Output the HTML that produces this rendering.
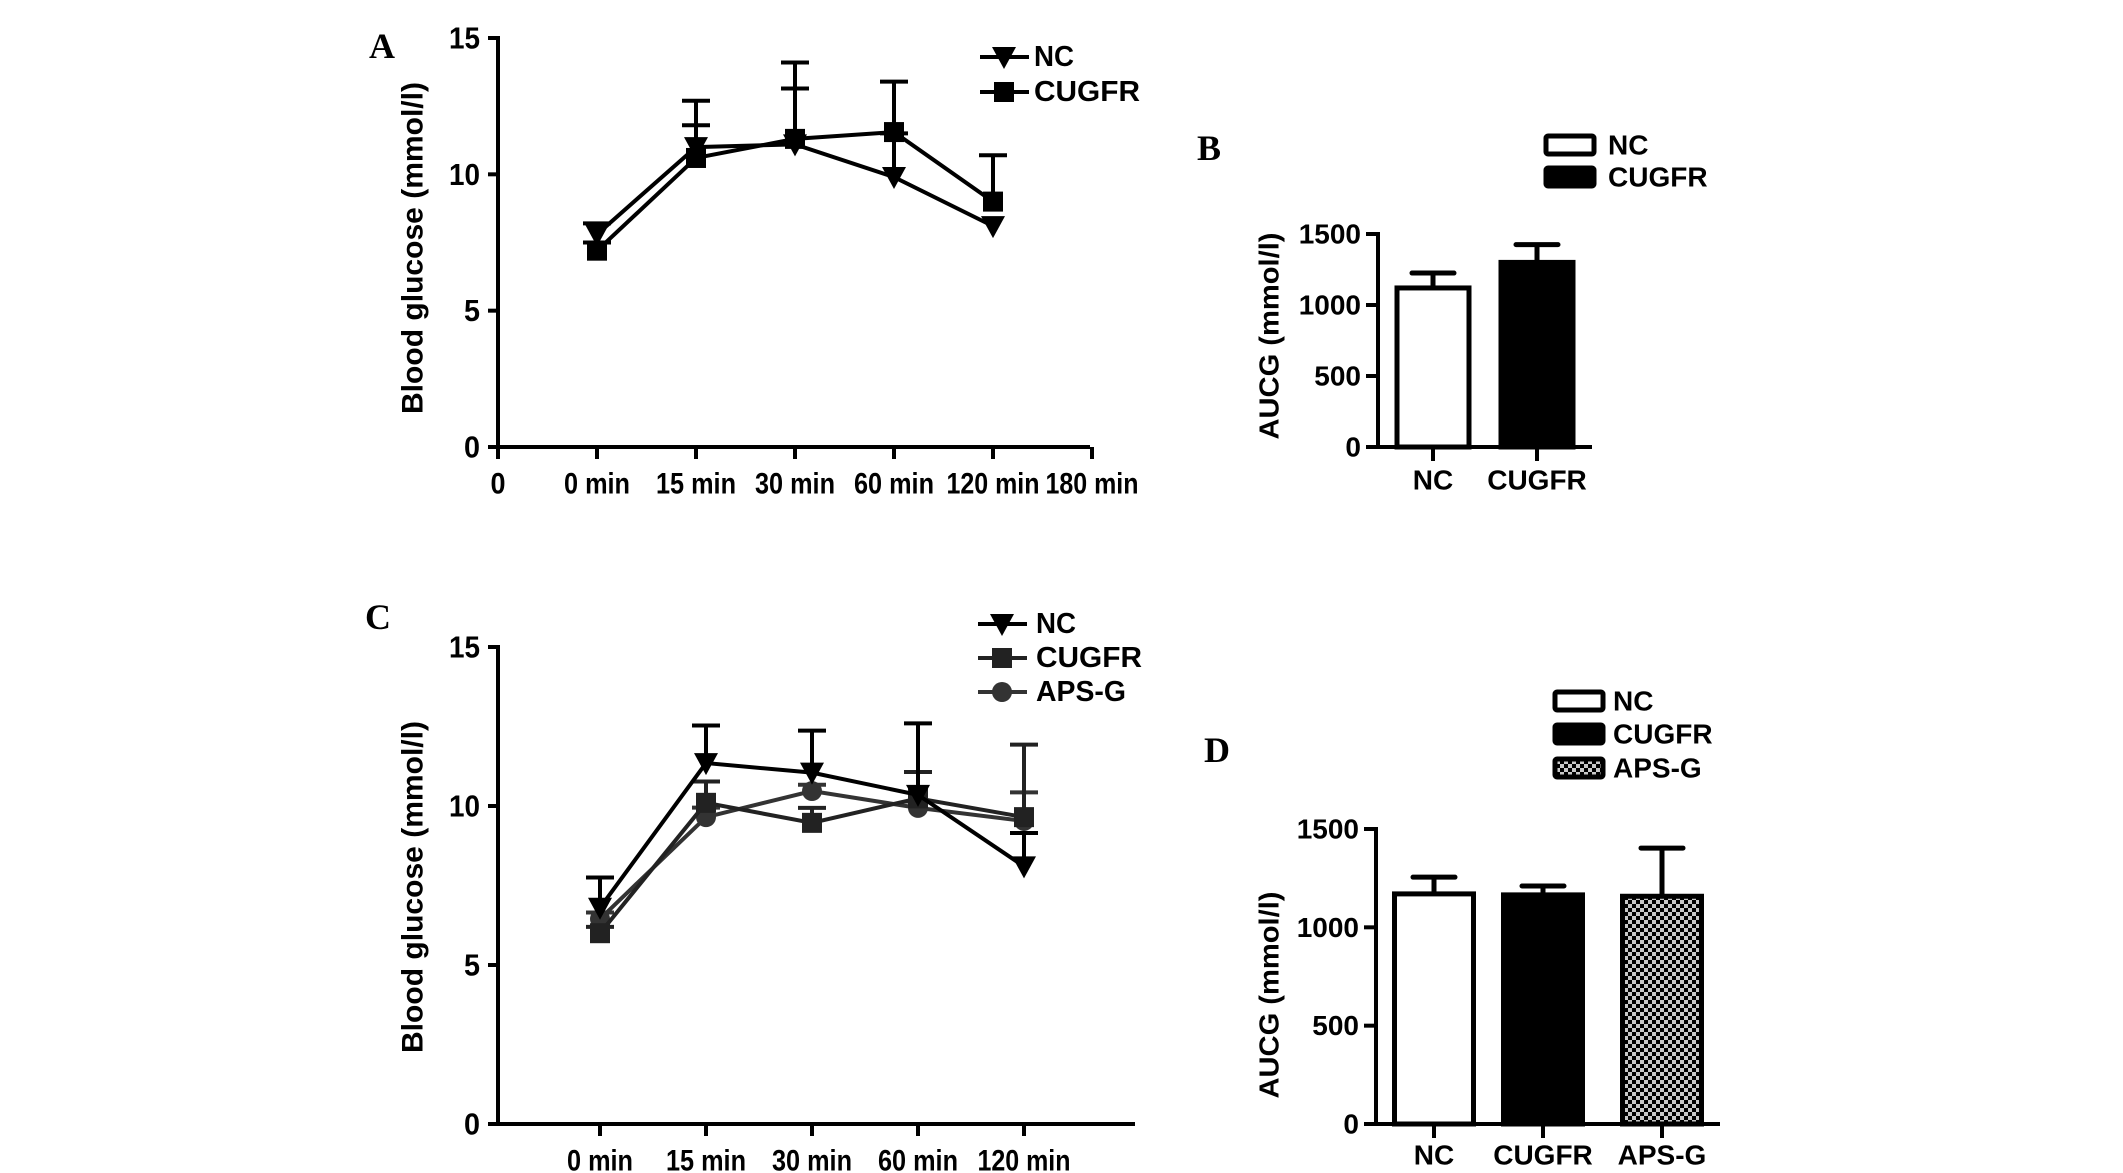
<!DOCTYPE html>
<html><head><meta charset="utf-8">
<style>
html,body{margin:0;padding:0;background:#fff;}
svg{display:block;font-family:"Liberation Sans",Arial,sans-serif;font-weight:bold;}
</style></head>
<body>
<svg id="fig" width="2123" height="1173" viewBox="0 0 2123 1173" xmlns="http://www.w3.org/2000/svg">
<defs>
<pattern id="checker" width="8" height="8" patternUnits="userSpaceOnUse">
<rect width="8" height="8" fill="#c8c8c8"/><rect width="4" height="4" fill="#000"/><rect x="4" y="4" width="4" height="4" fill="#000"/>
</pattern>
</defs>
<text x="382" y="46" text-anchor="middle" dominant-baseline="central" font-family="Liberation Serif,serif" font-size="36">A</text>
<text x="1209" y="148" text-anchor="middle" dominant-baseline="central" font-family="Liberation Serif,serif" font-size="36">B</text>
<text x="378" y="617" text-anchor="middle" dominant-baseline="central" font-family="Liberation Serif,serif" font-size="36">C</text>
<text x="1217" y="750" text-anchor="middle" dominant-baseline="central" font-family="Liberation Serif,serif" font-size="36">D</text>
<g id="gA"></g>
<g id="gB"></g>
<g id="gC"></g>
<g id="gD"></g>
</svg>
<script>
// ---- Panel A data ----
const aCats = ['0 min','15 min','30 min','60 min','120 min'];
const aXLabels = ['0','0 min','15 min','30 min','60 min','120 min','180 min'];
const aYTicks = [0,5,10,15];
const aNC = [7.8, 11.0, 11.1, 9.9, 8.1];
const aNCErr = [0.4, 0.8, 2.05, 1.6, 0.0];
const aCUGFR = [7.2, 10.6, 11.3, 11.55, 9.0];
const aCUGFRErr = [0.3, 2.1, 2.8, 1.85, 1.7];
// ---- Panel C data ----
const cCats = ['0 min','15 min','30 min','60 min','120 min'];
const cYTicks = [0,5,10,15];
const cNC = [6.8, 11.35, 11.05, 10.35, 8.1];
const cNCErr = [0.95, 1.18, 1.32, 2.25, 1.05];
const cCUGFR = [6.0, 10.1, 9.47, 10.24, 9.65];
const cCUGFRErr = [0.2, 0.67, 0.47, 0.83, 2.28];
const cAPS = [6.45, 9.65, 10.47, 9.94, 9.53];
const cAPSErr = [0.2, 0.3, 0.2, 0.2, 0.9];
// ---- Panel B data ----
const bCats = ['NC','CUGFR'];
const bVals = [1120, 1300];
const bErr = [105, 125];
const bYTicks = [0,500,1000,1500];
// ---- Panel D data ----
const dCats = ['NC','CUGFR','APS-G'];
const dVals = [1170, 1165, 1158];
const dErr = [85, 45, 245];
const dYTicks = [0,500,1000,1500];

const NS='http://www.w3.org/2000/svg';
function mk(parent, tag, attrs){const e=document.createElementNS(NS,tag);for(const k in attrs)e.setAttribute(k,attrs[k]);parent.appendChild(e);return e;}
function txt(parent,x,y,s,size,anchor,len,rot){
  const a={x:x,y:y,'font-size':size,'text-anchor':anchor||'middle','dominant-baseline':'central'};
  if(len){a.textLength=len;a.lengthAdjust='spacingAndGlyphs';}
  if(rot)a.transform='rotate(-90 '+x+' '+y+')';
  const t=mk(parent,'text',a);t.textContent=s;return t;}
function marker(g,type,x,y,col){
  if(type==='tri') return mk(g,'polygon',{points:(x-12)+','+(y-10)+' '+(x+12)+','+(y-10)+' '+x+','+(y+12),fill:col});
  if(type==='sq') return mk(g,'rect',{x:x-10,y:y-10,width:20,height:20,fill:col});
  return mk(g,'circle',{cx:x,cy:y,r:10,fill:col});
}

function linePanel(gid,pre,cfg,xLabels,yTicks,series,legend){
  const g=document.getElementById(gid);
  const xS=i=>cfg.xFirst+cfg.dx*i;
  const yS=v=>cfg.yBase-v*(cfg.yBase-cfg.yTop)/15;
  let e=mk(g,'line',{x1:cfg.x0,y1:cfg.yTop-2,x2:cfg.x0,y2:cfg.yBase,stroke:'#000','stroke-width':4});
  
  
  e=mk(g,'line',{x1:cfg.x0,y1:cfg.yBase,x2:cfg.x1,y2:cfg.yBase,stroke:'#000','stroke-width':4});
  
  
  yTicks.forEach(v=>{
    mk(g,'line',{x1:cfg.x0-10,y1:yS(v),x2:cfg.x0,y2:yS(v),stroke:'#000','stroke-width':4});
    const t=txt(g,cfg.x0-18,yS(v),String(v),31,'end',v>=10?31:16);
    
    
  });
  xLabels.forEach((s,i)=>{
    const x=cfg.labStart+cfg.dx*i;
    mk(g,'line',{x1:x,y1:cfg.yBase,x2:x,y2:cfg.yBase+12,stroke:'#000','stroke-width':4});
    const len=s.length===1?15:(s.length===5?66:(s.length===6?80:93));
    const t=txt(g,x,cfg.labY,s,30,'middle',len);
    
    
  });
  const yt=txt(g,cfg.titleX,cfg.titleY,'Blood glucose (mmol/l)',30,'middle',332,true);
  
  
  series.forEach(([vals,errs,m,col,nm])=>{
    vals.forEach((v,i)=>{
      if(errs[i]>0){
        const eb=mk(g,'path',{d:'M'+xS(i)+','+yS(v)+'V'+yS(v+errs[i])+'M'+(xS(i)-14)+','+yS(v+errs[i])+'H'+(xS(i)+14),stroke:col,'stroke-width':4,fill:'none'});
        
        
      }
    });
    const pl=mk(g,'polyline',{points:vals.map((v,i)=>xS(i)+','+yS(v)).join(' '),stroke:col,'stroke-width':4,fill:'none'});
    
    
    vals.forEach((v,i)=>{
      const mm=marker(g,m,xS(i),yS(v),col);
      
      
    });
  });
  legend.forEach(([s,m,y,col,len])=>{
    const l=mk(g,'line',{x1:cfg.legX0,y1:y,x2:cfg.legX0+49,y2:y,stroke:col,'stroke-width':4});
    
    
    marker(g,m,cfg.legX0+24,y,col);
    const t=txt(g,cfg.legTX,y,s,29,'start',len);
    
    
  });
}

linePanel('gA','a',{x0:498,x1:1090,xFirst:597,dx:99,labStart:498,yTop:38,yBase:447,labY:484,titleX:413,titleY:248,legX0:980,legTX:1034},
  aXLabels,aYTicks,
  [[aNC,aNCErr,'tri','#000','nc'],[aCUGFR,aCUGFRErr,'sq','#000','cugfr']],
  [['NC','tri',57,'#000',40],['CUGFR','sq',92,'#000',106]]);

linePanel('gC','c',{x0:498,x1:1135,xFirst:600,dx:106,labStart:600,yTop:647,yBase:1124,labY:1161,titleX:413,titleY:887,legX0:978,legTX:1036},
  cCats,cYTicks,
  [[cAPS,cAPSErr,'circ','#333','aps-g'],[cCUGFR,cCUGFRErr,'sq','#222','cugfr'],[cNC,cNCErr,'tri','#000','nc']],
  [['NC','tri',624,'#000',40],['CUGFR','sq',658,'#222',106],['APS-G','circ',692,'#333',90]]);

// ===== Bar panels =====
function barPanel(gid,pre,cats,vals,errs,ticks,cfg){
  const g=document.getElementById(gid);
  const yS=v=>cfg.yBase-v*(cfg.yBase-cfg.yTop)/1500;
  let e=mk(g,'line',{x1:cfg.x0,y1:cfg.yTop-2,x2:cfg.x0,y2:cfg.yBase,stroke:'#000','stroke-width':4});
  
  
  e=mk(g,'line',{x1:cfg.x0-12,y1:cfg.yBase,x2:cfg.x1,y2:cfg.yBase,stroke:'#000','stroke-width':4});
  
  
  ticks.forEach(v=>{
    mk(g,'line',{x1:cfg.x0-12,y1:yS(v),x2:cfg.x0,y2:yS(v),stroke:'#000','stroke-width':4});
    const t=txt(g,cfg.x0-17,yS(v),String(v),28,'end');
    
    
  });
  const fills=['#fff','#000','url(#checker)'];
  cats.forEach((c,i)=>{
    const cx=cfg.centers[i];
    mk(g,'line',{x1:cx,y1:cfg.yBase,x2:cx,y2:cfg.yBase+14,stroke:'#000','stroke-width':4});
    const eb=mk(g,'path',{d:'M'+cx+','+yS(vals[i])+'V'+yS(vals[i]+errs[i])+'M'+(cx-21)+','+yS(vals[i]+errs[i])+'H'+(cx+21),stroke:'#000','stroke-width':5,'stroke-linecap':'round',fill:'none'});
    
    
    const b=mk(g,'rect',{x:cx-cfg.bw/2,y:yS(vals[i]),width:cfg.bw,height:cfg.yBase-yS(vals[i]),fill:fills[i],stroke:'#000','stroke-width':5});
    
    
    const t=txt(g,cx,cfg.labY,c,28,'middle');
    
    
    const ly=cfg.legY[i];
    const lb=mk(g,'rect',{x:cfg.legX,y:ly-9,width:48,height:18,fill:fills[i],stroke:'#000','stroke-width':5,rx:2});
    
    
    const lt=txt(g,cfg.legTX,ly,c,28,'start');
    
    
  });
  const yt=txt(g,1269,cfg.titleY,'AUCG (mmol/l)',28,'middle',207,true);
  
  
}
barPanel('gB','b',bCats,bVals,bErr,bYTicks,{x0:1378,x1:1592,yTop:234,yBase:447,centers:[1433,1537],bw:72,labY:480,legX:1546,legTX:1608,legY:[145,177],titleY:336});
barPanel('gD','d',dCats,dVals,dErr,dYTicks,{x0:1376,x1:1720,yTop:829,yBase:1124,centers:[1434,1543,1662],bw:79,labY:1155,legX:1555,legTX:1613,legY:[701,734,768],titleY:995});
</script>
</body></html>
